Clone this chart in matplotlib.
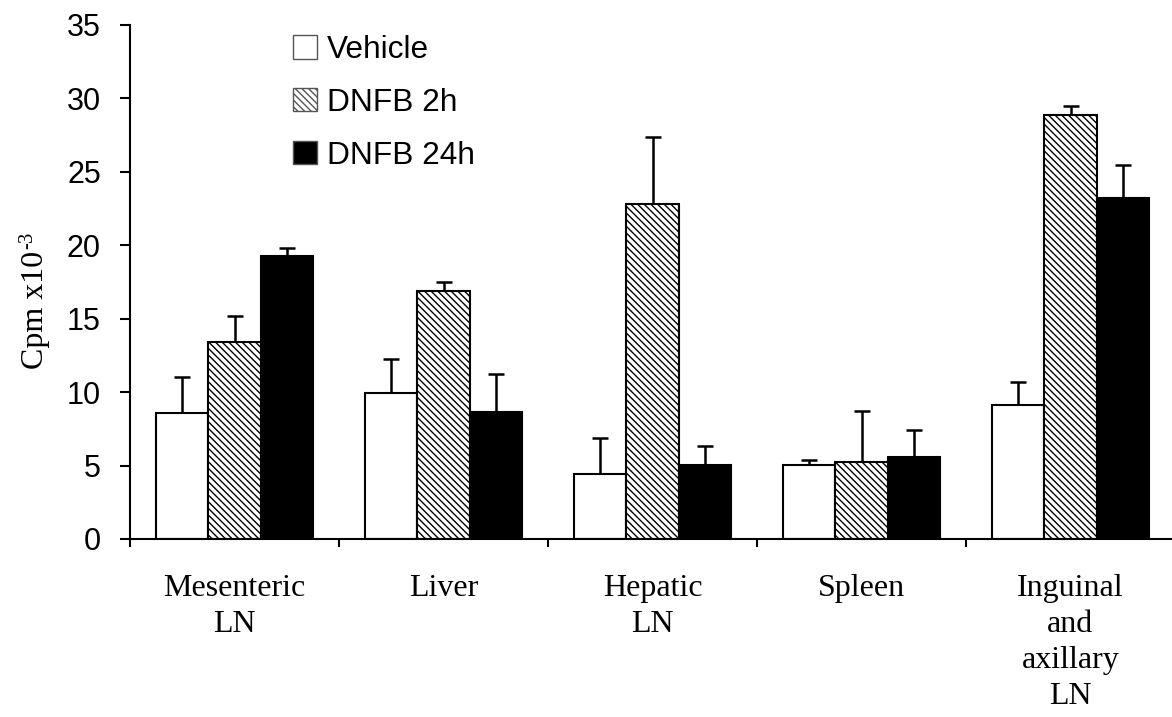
import numpy as np
import matplotlib.pyplot as plt
from matplotlib.patches import Patch

# Data (Cpm x10^-3, mean and upper error)
categories = ['Mesenteric\nLN', 'Liver', 'Hepatic\nLN', 'Spleen', 'Inguinal\nand\naxillary\nLN']
series = ['Vehicle', 'DNFB 2h', 'DNFB 24h']
vehicle = [8.6, 9.95, 4.45, 5.05, 9.1]
vehicle_err = [2.45, 2.3, 2.45, 0.3, 1.6]
dnfb_2h = [13.4, 16.9, 22.8, 5.25, 28.9]
dnfb_2h_err = [1.8, 0.6, 4.6, 3.5, 0.6]
dnfb_24h = [19.3, 8.65, 5.05, 5.6, 23.2]
dnfb_24h_err = [0.5, 2.6, 1.3, 1.85, 2.3]

plt.rcParams['hatch.linewidth'] = 1.0

fig = plt.figure(figsize=(11.72, 7.17), dpi=100)
ax = fig.add_axes([130 / 1172, 178 / 717, 1045 / 1172, 514 / 717])

x = np.arange(len(categories))
width = 0.25
hatch = '\\\\\\\\\\'
styles = [dict(color='white', hatch=None),
          dict(color='white', hatch=hatch),
          dict(color='black', hatch=None)]
values = [vehicle, dnfb_2h, dnfb_24h]
errs = [vehicle_err, dnfb_2h_err, dnfb_24h_err]

for k in range(3):
    ax.bar(x + 0.25 * (k + 1), values[k], width,
           yerr=[np.zeros(len(x)), errs[k]],
           color=styles[k]['color'], hatch=styles[k]['hatch'],
           edgecolor='black', linewidth=1.5,
           error_kw=dict(ecolor='black', elinewidth=1.8, capsize=6, capthick=1.8,
                         zorder=1),
           zorder=2)

ax.set_xlim(0, 5)
ax.set_ylim(0, 35)
ax.set_yticks(np.arange(0, 36, 5))
ax.tick_params(axis='y', labelsize=22, length=7, width=1.5, pad=14,
               labelfontfamily='Liberation Sans')
ax.set_xticks(np.arange(0, 6))
ax.set_xticklabels([])
ax.tick_params(axis='x', which='major', length=6, width=1.5)
ax.set_xticks(x + 0.5, minor=True)
ax.set_xticklabels(categories, minor=True, fontsize=23, family='Liberation Serif',
                   linespacing=1.32, va='top')
ax.tick_params(axis='x', which='minor', length=0, pad=25)

for s in ['top', 'right']:
    ax.spines[s].set_visible(False)
for s in ['left', 'bottom']:
    ax.spines[s].set_linewidth(1.5)

# y label with a plain hyphen in the superscript
fig.text(35 / 1172, 1 - 310 / 717, 'Cpm x10', rotation=90,
         ha='center', va='center', fontsize=23, family='Liberation Serif')
fig.text(28 / 1172, 1 - 240 / 717, '-3', rotation=90,
         ha='center', va='center', fontsize=15, family='Liberation Serif')

handles = [Patch(facecolor='white', edgecolor='#555555', linewidth=1.0),
           Patch(facecolor='white', edgecolor='#555555', hatch=hatch, linewidth=1.0),
           Patch(facecolor='black', edgecolor='#555555', linewidth=1.0)]
leg = fig.legend(handles, series, loc='upper left', bbox_to_anchor=(0.25, 1 - 35 / 717),
                 frameon=False, borderpad=0, borderaxespad=0,
                 handlelength=0.76, handleheight=0.76, handletextpad=0.3,
                 labelspacing=0.72, prop={'family': 'Liberation Sans', 'size': 22.8})

fig.savefig('out.png', dpi=100)
